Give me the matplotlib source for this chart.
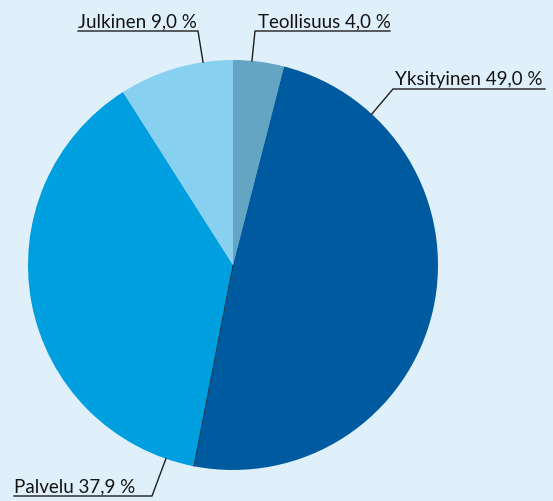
import numpy as np
import matplotlib.pyplot as plt

# data
labels = ["Teollisuus", "Yksityinen", "Palvelu", "Julkinen"]
shares = [4.0, 49.0, 37.9, 9.0]
colors = ["#64a5c3", "#005a9f", "#009fe0", "#88d0f0"]

BG = "#e0f0fb"
W, H = 553, 502
CX, CY, R = 233, 266, 205  # pie centre / radius in pixels

# label layout: attach angle on rim, elbow (px), end of underline (px), text x (px)
layout = {
    "Teollisuus": dict(ang=84.7, elbow=(255, 32), end=390, tx=258),
    "Yksityinen": dict(ang=47.4, elbow=(393, 90), end=545, tx=395),
    "Palvelu":    dict(ang=250.9, elbow=(152, 497), end=14, tx=14),
    "Julkinen":   dict(ang=98.4, elbow=(198, 32), end=78, tx=78),
}


def px(x, y):
    # pixel coords -> data coords of the pie axes
    return (x - CX) / R, (CY - y) / R


fig = plt.figure(figsize=(W / 100, H / 100), dpi=100)
fig.patch.set_facecolor(BG)
ax = fig.add_axes([(CX - R) / W, (H - CY - R) / H, 2 * R / W, 2 * R / H])
ax.set_facecolor(BG)

wedges, _ = ax.pie(shares, colors=colors, startangle=90, counterclock=False,
                   radius=1, wedgeprops=dict(linewidth=0))
ax.set_xlim(-1, 1)
ax.set_ylim(-1, 1)
ax.set_aspect("equal")
ax.axis("off")

# thin dark boundary between Yksityinen and Palvelu
t = np.deg2rad(wedges[1].theta1)
ax.plot([0, np.cos(t)], [0, np.sin(t)], color="#1a2a3a", lw=0.6)

for name, val in zip(labels, shares):
    L = layout[name]
    a = np.deg2rad(L["ang"])
    rim = (np.cos(a), np.sin(a))
    ex, ey = px(*L["elbow"])
    endx, _ = px(L["end"], 0)
    ax.plot([rim[0], ex, endx], [rim[1], ey, ey], color="#1e1e1e", lw=1.0,
            clip_on=False, solid_joinstyle="miter")
    txt = f"{name} {val:.1f} %".replace(".", ",")
    tx, _ = px(L["tx"], 0)
    ax.text(tx, ey + 5 / R, txt, ha="left", va="baseline", fontsize=13.5,
            family="Lato", color="#141414", clip_on=False)

fig.savefig("out.png", dpi=100, facecolor=BG)
